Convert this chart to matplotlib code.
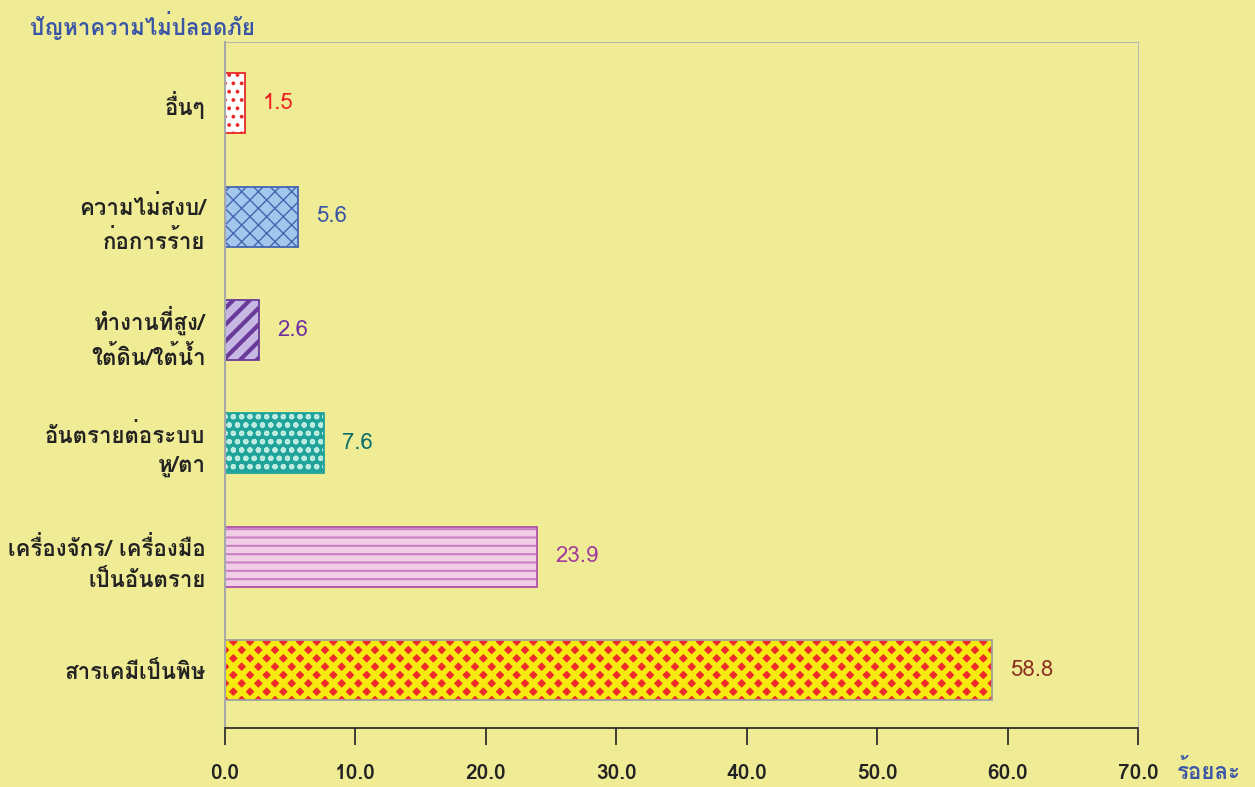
import matplotlib
matplotlib.use('Agg')
import matplotlib.pyplot as plt
from matplotlib import font_manager, ft2font


def thai_font():
    # first installed font that has Thai glyphs
    for f in font_manager.fontManager.ttflist:
        try:
            if 0x0E01 in ft2font.FT2Font(f.fname).get_charmap():
                return f.name
        except Exception:
            pass
    return 'DejaVu Sans'


plt.rcParams['font.family'] = [thai_font(), 'DejaVu Sans']

categories = ['สารเคมีเป็นพิษ', 'เครื่องจักร/ เครื่องมือ\nเป็นอันตราย', 'อันตรายต่อระบบ\nหู/ตา',
              'ทำงานที่สูง/\nใต้ดิน/ใต้น้ำ', 'ความไม่สงบ/\nก่อการร้าย', 'อื่นๆ']
values = [58.8, 23.9, 7.6, 2.6, 5.6, 1.5]
ticks = [0, 10, 20, 30, 40, 50, 60, 70]

face = ['#EE2A2A', '#F2CDE6', '#1FA39B', '#C6B8E3', '#A3C6EC', 'white']
hatch_col = ['#F7EA10', '#C880C0', '#BEEBE0', '#6A3A9A', '#4565B0', '#E82828']
edge = ['#A0A0A0', '#B050A8', '#1FA39B', '#6A3A9A', '#4565B0', '#E82828']
hatches = ['xx', '--', 'oo', '//', 'xx', '..']
hatch_lw = [4.0, 1.5, 1.5, 3, 1.0, 1.5]
label_col = ['#8B3020', '#A03C9C', '#0B6E68', '#7030A0', '#3A55A5', '#EE2020']

bg = '#F0EC96'
fig = plt.figure(figsize=(12.55, 7.87), dpi=100, facecolor=bg)
ax = fig.add_axes([0.1793, 0.075, 0.7275, 0.8716], facecolor=bg)

pos = list(range(len(values)))
for i in pos:
    with plt.rc_context({'hatch.linewidth': hatch_lw[i]}):
        ax.barh(i, values[i], height=0.53, color=face[i], edgecolor=hatch_col[i],
                hatch=hatches[i], linewidth=0)
    ax.barh(i, values[i], height=0.53, fill=False, edgecolor=edge[i], linewidth=1.3)
    ax.text(values[i] + 1.4, i, f'{values[i]:.1f}', va='center', ha='left',
            fontsize=16, color=label_col[i])

ax.set_xlim(0, 70)
ax.set_ylim(-0.51, 5.54)
ax.set_xticks(ticks)
ax.set_xticklabels([f'{t:.1f}' for t in ticks], fontsize=15, fontweight='bold', color='#222222')
ax.tick_params(axis='x', direction='out', length=12, width=1.2, color='#222222', pad=14)
ax.set_yticks(pos)
ax.set_yticklabels(categories, fontsize=16, fontweight='bold', color='#222222',
                   linespacing=1.5)
ax.tick_params(axis='y', length=0, pad=14)

ax.spines['bottom'].set_color('#222222')
ax.spines['bottom'].set_linewidth(1.2)
ax.spines['left'].set_color('#A8A8A8')
ax.spines['left'].set_linewidth(1.5)
ax.spines['top'].set_color('#B8B8B8')
ax.spines['right'].set_color('#B8B8B8')

fig.text(0.024, 0.967, 'ปัญหาความไม่ปลอดภัย', fontsize=16, fontweight='bold',
         color='#3A55A5', ha='left', va='center')
fig.text(0.938, 0.02, 'ร้อยละ', fontsize=16, fontweight='bold',
         color='#3A55A5', ha='left', va='center')

fig.savefig('out.png', dpi=100, facecolor=bg)
